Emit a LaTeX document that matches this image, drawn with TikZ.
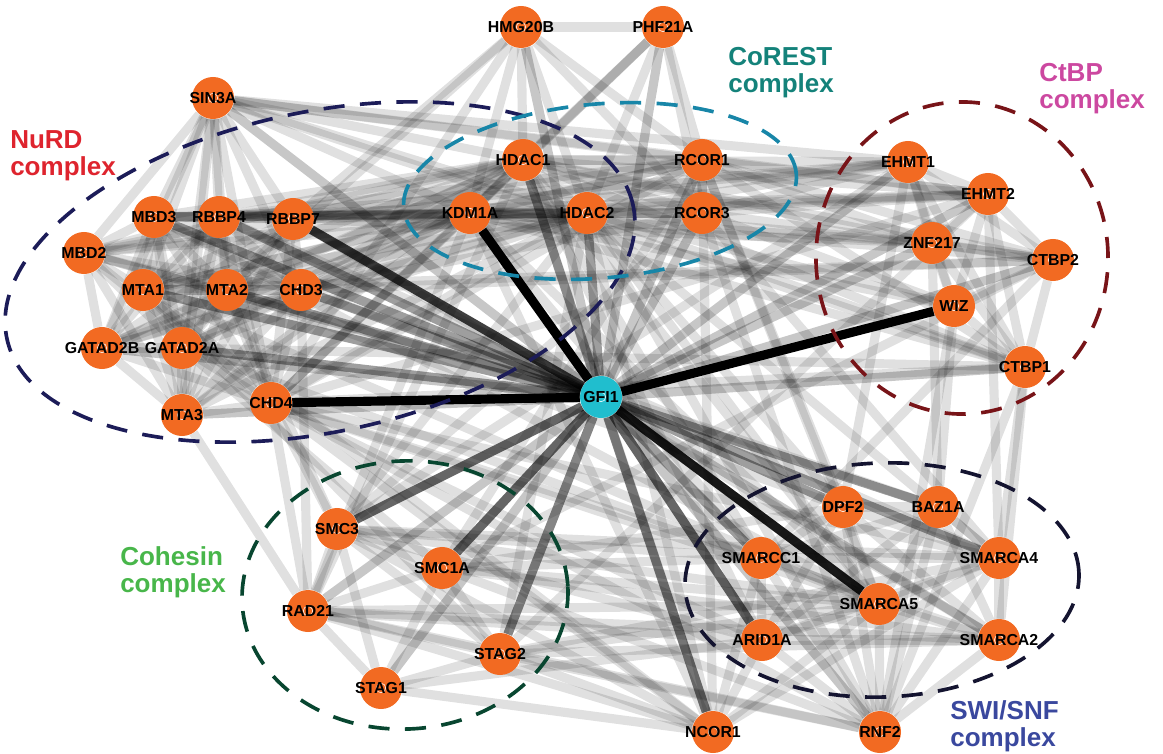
\documentclass[tikz,border=0pt]{standalone}
\usepackage{fontspec}
\usepackage{xcolor}
\usepackage{tikz}
\usetikzlibrary{backgrounds}
\newfontfamily\genefont{Liberation Sans}

\definecolor{geneorange}{RGB}{242,106,34}
\definecolor{gficyan}{RGB}{32,190,206}
\definecolor{nurdred}{RGB}{222,36,46}
\definecolor{corestteal}{RGB}{20,130,122}
\definecolor{ctbppink}{RGB}{204,72,160}
\definecolor{cohesingreen}{RGB}{72,182,74}
\definecolor{swiblue}{RGB}{58,72,158}
\definecolor{nurdring}{RGB}{28,28,88}
\definecolor{corestring}{RGB}{24,134,168}
\definecolor{ctbpring}{RGB}{120,20,24}
\definecolor{cohesinring}{RGB}{8,70,48}
\definecolor{swiring}{RGB}{20,20,48}

% all pairs inside one complex
\newcommand{\cliqueedges}[1]{%
  \foreach \a [count=\i] in {#1} {%
    \foreach \b [count=\j] in {#1} {%
      \ifnum\i<\j \draw[lite] (\a) -- (\b); \fi}}}

\begin{document}
\begin{tikzpicture}[
    x=0.025cm, y=-0.025cm,
    gene/.style={
        circle,
        fill=geneorange,
        minimum size=1.05cm,
        inner sep=0pt,
        font=\genefont\bfseries\fontsize{11.3}{13}\selectfont,
        execute at begin node={\hbox to 0pt\bgroup\hss},
        execute at end node={\hss\egroup},
        path picture={\draw[white, line width=0.4pt]
            (path picture bounding box.center) circle (3.4pt);}
    },
    hub/.style={gene, fill=gficyan},
    tie/.style={line width=6.5pt, draw=black, opacity=#1},
    lite/.style={tie=0.12},
    ring/.style={dash pattern=on 15pt off 11pt, line width=2.6pt},
    cplx/.style={
        font=\genefont\bfseries\fontsize{18.5}{19.5}\selectfont,
        align=left,
        inner sep=0pt,
        anchor=north west
    }
]
\useasboundingbox (0,0) rectangle (1163,754);

% NuRD
\node[gene] (sin3a) at (213,98) {SIN3A};
\node[gene] (mbd3) at (154,217) {MBD3};
\node[gene] (rbbp4) at (219,217) {RBBP4};
\node[gene] (rbbp7) at (293,219) {RBBP7};
\node[gene] (mbd2) at (84,253) {MBD2};
\node[gene] (mta1) at (143,290) {MTA1};
\node[gene] (mta2) at (227,290) {MTA2};
\node[gene] (chd3) at (301,290) {CHD3};
\node[gene] (gatad2b) at (102,348) {GATAD2B};
\node[gene] (gatad2a) at (182,348) {GATAD2A};
\node[gene] (mta3) at (182,415) {MTA3};
\node[gene] (chd4) at (271,403) {CHD4};

% CoREST
\node[gene] (hmg20b) at (521,27) {HMG20B};
\node[gene] (phf21a) at (663,27) {PHF21A};
\node[gene] (hdac1) at (523,160) {HDAC1};
\node[gene] (rcor1) at (702,160) {RCOR1};
\node[gene] (kdm1a) at (470,213) {KDM1A};
\node[gene] (hdac2) at (587,213) {HDAC2};
\node[gene] (rcor3) at (702,213) {RCOR3};

% CtBP
\node[gene] (ehmt1) at (908,162) {EHMT1};
\node[gene] (ehmt2) at (988,194) {EHMT2};
\node[gene] (znf217) at (932,243) {ZNF217};
\node[gene] (ctbp2) at (1053,260) {CTBP2};
\node[gene] (wiz) at (954,306) {WIZ};
\node[gene] (ctbp1) at (1025,367) {CTBP1};

% Cohesin
\node[gene] (smc3) at (337,529) {SMC3};
\node[gene] (smc1a) at (442,568) {SMC1A};
\node[gene] (rad21) at (308,611) {RAD21};
\node[gene] (stag2) at (500,654) {STAG2};
\node[gene] (stag1) at (381,688) {STAG1};

% SWI/SNF
\node[gene] (dpf2) at (843,507) {DPF2};
\node[gene] (baz1a) at (938,507) {BAZ1A};
\node[gene] (smarcc1) at (761,558) {SMARCC1};
\node[gene] (smarca4) at (999,558) {SMARCA4};
\node[gene] (smarca5) at (879,604) {SMARCA5};
\node[gene] (arid1a) at (762,640) {ARID1A};
\node[gene] (smarca2) at (999,640) {SMARCA2};
\node[gene] (ncor1) at (713,732) {NCOR1};
\node[gene] (rnf2) at (880,732) {RNF2};

\node[hub] (gfi1) at (601,397) {GFI1};

% complex names
\node[cplx, text=nurdred] (nurdlbl) at (10,130) {NuRD\\complex};
\node[cplx, text=corestteal] (corestlbl) at (728,47) {CoREST\\complex};
\node[cplx, text=ctbppink] (ctbplbl) at (1039,63) {CtBP\\complex};
\node[cplx, text=cohesingreen] (cohesinlbl) at (120,546) {Cohesin\\complex};
\node[cplx, text=swiblue] (swilbl) at (950,700) {SWI/SNF\\complex};

\begin{scope}[on background layer]
\cliqueedges{sin3a,mbd3,rbbp4,rbbp7,mbd2,mta1,mta2,chd3,gatad2b,gatad2a,mta3,chd4}
\cliqueedges{hmg20b,phf21a,hdac1,rcor1,kdm1a,hdac2,rcor3}
\cliqueedges{ehmt1,ehmt2,znf217,ctbp2,wiz,ctbp1}
\cliqueedges{smc3,smc1a,rad21,stag2,stag1}
\cliqueedges{dpf2,baz1a,smarcc1,smarca4,smarca5,arid1a,smarca2,rnf2}

\foreach \a in {hdac1,hdac2,kdm1a}
  \foreach \b in {sin3a,mbd3,rbbp4,rbbp7,mbd2,mta1,mta2,chd3,gatad2b,gatad2a,mta3,chd4}
    \draw[lite] (\a) -- (\b);

\foreach \a/\b in {sin3a/rcor1, sin3a/ehmt1, sin3a/ehmt2, sin3a/ctbp1,
    rcor1/rbbp4, rcor1/rbbp7, rcor1/mta1, rcor1/chd4, rcor3/mbd3, rcor3/chd3,
    hmg20b/rbbp7, hmg20b/chd4, hmg20b/mta2, phf21a/chd4,
    ehmt1/hdac1, ehmt1/hdac2, ehmt1/kdm1a, ehmt1/rcor3, ehmt1/rbbp4, ehmt1/rbbp7,
    ehmt2/hdac1, ehmt2/hdac2, ehmt2/kdm1a, ehmt2/rcor1, ehmt2/rcor3, ehmt2/mbd3, ehmt2/chd4,
    znf217/kdm1a, znf217/hdac1, znf217/hdac2, znf217/rcor1, znf217/rbbp7,
    ctbp1/hdac1, ctbp1/hdac2, ctbp1/rcor1, ctbp1/kdm1a, ctbp1/gatad2a, ctbp1/chd4,
    ctbp2/hdac1, ctbp2/rcor1, ctbp2/rcor3, ctbp2/kdm1a, ctbp2/mta1, ctbp2/chd3,
    wiz/hdac2, wiz/kdm1a, wiz/rcor3,
    chd4/smarca5, chd4/smarca4, chd4/arid1a, chd4/smarcc1, chd4/rad21, chd4/smc3,
    mta1/smarca5, rbbp4/smarca4, mbd3/smarca5, rbbp7/smarca2, gatad2a/smarcc1,
    mta2/dpf2, chd3/baz1a, chd3/rad21, mta3/rad21, mta2/smc3, mta1/stag2, gatad2a/smc1a,
    smc3/smarca5, smc3/smarca4, smc3/smarcc1, smc3/arid1a, smc3/hdac2, smc3/rcor3, smc3/ehmt1,
    smc1a/smarca5, smc1a/smarca2, smc1a/smarcc1, smc1a/dpf2, smc1a/rcor1, smc1a/ctbp2,
    rad21/smarca5, rad21/smarca2, rad21/arid1a, rad21/hdac1, rad21/kdm1a,
    stag2/smarca4, stag2/smarca2, stag2/smarca5, stag2/hdac2, stag2/ehmt2,
    stag1/ncor1, stag1/arid1a,
    baz1a/znf217, baz1a/wiz, smarca4/ctbp1, smarca4/ehmt2, smarca2/ctbp1,
    rnf2/ctbp1, rnf2/wiz, dpf2/ehmt1, smarcc1/ctbp2,
    smarca5/hdac1, smarca5/hdac2, smarca5/rcor1, smarca5/kdm1a, smarca4/hdac2,
    smarca4/rcor3, arid1a/hdac1, dpf2/hdac2, dpf2/rcor1, smarcc1/kdm1a, smarcc1/hdac1,
    ncor1/hdac1, ncor1/hdac2, ncor1/kdm1a, ncor1/rcor1, ncor1/rad21, ncor1/smc3,
    ncor1/stag2, ncor1/smarca5, ncor1/smarca4, ncor1/smarcc1, ncor1/arid1a,
    ncor1/chd4, ncor1/mta1,
    rnf2/rad21, rnf2/smc1a, rnf2/stag2, rnf2/chd4, rnf2/hdac2, rnf2/rcor3}
  \draw[lite] (\a) -- (\b);

% GFI1 interactions
\foreach \b in {sin3a,mbd2,gatad2b,mta3,hmg20b,phf21a,rcor1,rcor3,ehmt1,ehmt2,
    znf217,ctbp2,ctbp1,rad21,stag1,smarca2,rnf2}
  \draw[tie=0.22] (gfi1) -- (\b);
\foreach \b in {rbbp4,mbd3,mta1,mta2,chd3,gatad2a,hdac1,hdac2,dpf2,smarcc1,baz1a,smarca4}
  \draw[tie=0.38] (gfi1) -- (\b);
\foreach \b in {ncor1,stag2} \draw[tie=0.48] (gfi1) -- (\b);
\foreach \b in {smc3,smc1a,arid1a} \draw[tie=0.6] (gfi1) -- (\b);
\draw[tie=0.75] (gfi1) -- (rbbp7);
\draw[tie=0.9] (gfi1) -- (smarca5);
\foreach \b in {kdm1a,chd4,wiz} \draw[tie=1] (gfi1) -- (\b);

% complex outlines
\draw[ring, nurdring, rotate around={12:(320,272)}] (320,272) ellipse [x radius=8cm, y radius=4cm];
\draw[ring, corestring, rotate around={5:(600,191)}] (600,191) ellipse [x radius=4.925cm, y radius=2.175cm];
\draw[ring, ctbpring] (962,258) ellipse [x radius=3.65cm, y radius=3.9cm];
\draw[ring, cohesinring, rotate around={3:(405,595)}] (405,595) ellipse [x radius=4.075cm, y radius=3.35cm];
\draw[ring, swiring, rotate around={2:(882,580)}] (882,580) ellipse [x radius=4.925cm, y radius=2.925cm];
\end{scope}

\end{tikzpicture}
\end{document}
